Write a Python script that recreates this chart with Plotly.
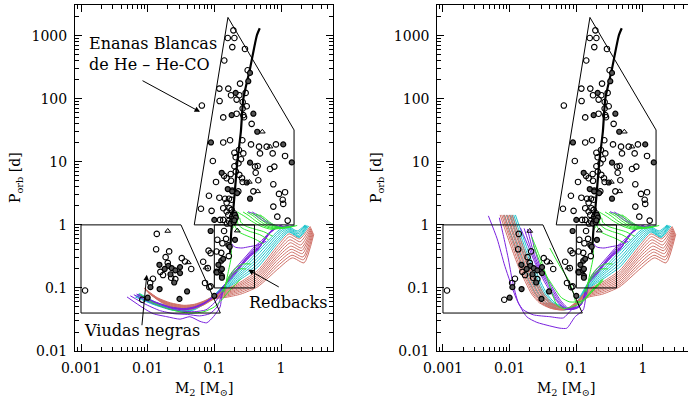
import numpy as np
import plotly.graph_objects as go

W, H = 688, 401
FONT = "DejaVu Serif"

SALMON = "#cf7168"
CYAN = "#1fc4cc"
PURPLE = "#7a22de"
GREEN = "#2ee82e"

# ---------------- observed binary pulsars (M2 [Msun], Porb [d]) ----------------
OPEN_PTS = [
    (0.065, 78), (0.193, 1217), (0.159, 920), (0.2, 920), (0.186, 660), (0.288, 617),
    (0.141, 404), (0.316, 283), (0.243, 174), (0.119, 145), (0.162, 145), (0.295, 124),
    (0.178, 114), (0.237, 114), (0.216, 97), (0.12, 92), (0.266, 89), (0.306, 76),
    (0.266, 70), (0.279, 51), (0.136, 50.6), (0.272, 55), (0.216, 58), (0.363, 40),
    (0.136, 20.3), (0.172, 22), (0.263, 22), (0.355, 18.9), (0.468, 17.4), (0.61, 17.4),
    (0.84, 18.9), (0.484, 13.6), (0.75, 13.6), (1.15, 12.4), (0.2, 13.9), (0.234, 15.4),
    (0.209, 11.8), (0.251, 11), (0.272, 13.6), (0.095, 10.3), (0.407, 8.4), (0.447, 8.6),
    (0.684, 7.7), (0.794, 8.4), (0.14, 6.0), (0.176, 6.4), (0.153, 5.5), (0.178, 5.0),
    (0.237, 6.2), (0.266, 4.8), (0.417, 6.7), (0.457, 5.1), (0.767, 4.4), (0.106, 4.8),
    (0.186, 3.5), (0.229, 3.4), (0.385, 3.4), (0.933, 3.1), (1.15, 3.3), (0.083, 2.9),
    (0.119, 2.7), (0.145, 2.6), (0.166, 2.6), (0.153, 2.25), (0.182, 2.5), (1.06, 2.5),
    (1.08, 2.15), (0.063, 1.8), (0.091, 1.67), (0.136, 1.84), (0.168, 1.84), (0.153, 1.63),
    (0.182, 1.73), (0.197, 1.53), (0.162, 1.44), (0.767, 1.95), (0.88, 1.35), (0.122, 1.2),
    (0.136, 1.2), (1.26, 1.17), (0.185, 1.35), (0.165, 1.15), (0.155, 1.05), (0.23, 9.5),
    (0.21, 7.0), (0.2, 8.5), (0.26, 5.5),
    (0.00115, 0.091), (0.0137, 0.72), (0.0134, 0.41), (0.021, 0.38), (0.0186, 0.308),
    (0.0325, 0.297), (0.0363, 0.263), (0.026, 0.138), (0.0725, 0.12), (0.088, 0.106),
    (0.0109, 0.12), (0.088, 0.356), (0.127, 0.36), (0.111, 0.58), (0.132, 0.51),
    (0.108, 0.378), (0.165, 0.32), (0.108, 0.18), (0.082, 0.39), (0.068, 0.26),
    (0.084, 0.103), (0.08, 0.206), (0.02, 0.25), (0.017, 0.16), (0.0155, 0.18),
    (0.0225, 0.145), (0.045, 0.2), (0.0083, 0.065), (0.012, 0.14), (0.14, 0.8), (0.15, 0.6),
]
FILLED_PTS = [
    (0.343, 257), (0.323, 190), (0.209, 124), (0.182, 55), (0.385, 58), (0.44, 30),
    (0.089, 20.3), (1.08, 18.9), (0.343, 9.7), (1.45, 9.8), (0.129, 6.7), (0.306, 4.7),
    (0.159, 3.7), (0.343, 2.6), (0.1, 1.2), (0.193, 1.28), (0.182, 1.13), (0.204, 1.44),
    (0.175, 1.05), (0.195, 1.1), (0.21, 1.3), (0.2, 1.18), (0.22, 3.2), (0.185, 3.4),
    (0.015, 0.233), (0.0204, 0.224), (0.023, 0.206), (0.0306, 0.214), (0.0306, 0.172),
    (0.025, 0.122), (0.039, 0.088), (0.03, 0.067), (0.1, 0.075), (0.088, 0.8),
    (0.127, 0.27), (0.109, 0.176), (0.125, 0.19), (0.162, 0.48), (0.17, 0.45),
    (0.204, 0.58), (0.136, 0.29), (0.115, 0.233), (0.13, 0.2), (0.13, 0.155),
    (0.13, 0.145), (0.018, 0.2), (0.026, 0.19), (0.022, 0.165), (0.01, 0.07),
    (0.011, 0.103), (0.0151, 0.096),
]
TRIANGLE_PTS = [
    (0.525, 30), (0.684, 17.4), (0.335, 4.8), (0.447, 3.4), (0.02, 0.8),
    (0.0407, 0.254), (0.221, 0.81), (0.075, 0.21),
]

# ---------------- regions and the He-WD period-mass relation ----------------
WD_REGION = [(0.05, 1), (0.16, 1950), (1.57, 32), (1.57, 1), (0.05, 1)]
BW_REGION = [(0.001, 1), (0.0316, 1), (0.123, 0.04), (0.001, 0.04), (0.001, 1)]
RB_REGION = [(0.1, 0.1), (0.4, 0.1), (0.4, 1), (0.1, 1), (0.1, 0.1)]
WD_RELATION = [(0.172, 0.36), (0.18, 0.8), (0.19, 1.5), (0.204, 3.6), (0.221, 10),
               (0.25, 30), (0.272, 100), (0.343, 300), (0.433, 1000), (0.48, 1310)]

# ---------------- evolutionary tracks: high-mass part (shared) ----------------
SALMON_HI = [
    [(2.75, 0.95), (1.9, 0.6), (1.32, 0.72), (0.9, 0.47), (0.45, 0.19), (0.25, 0.125), (0.15, 0.095)],
    [(2.8, 0.92), (1.94, 0.54), (1.34, 0.65), (0.9, 0.42), (0.45, 0.175), (0.25, 0.118), (0.15, 0.092)],
    [(2.84, 0.89), (1.98, 0.48), (1.36, 0.58), (0.9, 0.38), (0.45, 0.162), (0.25, 0.112), (0.15, 0.089)],
    [(2.88, 0.86), (2.02, 0.43), (1.38, 0.52), (0.9, 0.34), (0.45, 0.15), (0.25, 0.106), (0.15, 0.086)],
    [(2.92, 0.83), (2.06, 0.39), (1.4, 0.46), (0.9, 0.31), (0.45, 0.139), (0.25, 0.1), (0.15, 0.083)],
    [(2.96, 0.8), (2.1, 0.35), (1.42, 0.41), (0.9, 0.28), (0.45, 0.129), (0.25, 0.095), (0.15, 0.08)],
    [(3.0, 0.77), (2.14, 0.31), (1.44, 0.37), (0.9, 0.25), (0.45, 0.12), (0.25, 0.09), (0.15, 0.077)],
    [(3.05, 0.74), (2.18, 0.28), (1.46, 0.33), (0.9, 0.225), (0.45, 0.112), (0.25, 0.085), (0.15, 0.074)],
    [(3.1, 0.71), (2.22, 0.25), (1.48, 0.3), (0.9, 0.2), (0.45, 0.105), (0.25, 0.08), (0.15, 0.071)],
]
CYAN_HI = [
    [(2.3, 1.0), (1.75, 0.8), (1.22, 0.97), (0.9, 0.8), (0.45, 0.38), (0.25, 0.2), (0.15, 0.12)],
    [(2.35, 0.99), (1.78, 0.76), (1.24, 0.92), (0.9, 0.74), (0.45, 0.34), (0.25, 0.185), (0.15, 0.114)],
    [(2.4, 0.98), (1.8, 0.72), (1.26, 0.88), (0.9, 0.68), (0.45, 0.3), (0.25, 0.172), (0.15, 0.109)],
    [(2.45, 0.97), (1.83, 0.68), (1.28, 0.84), (0.9, 0.62), (0.45, 0.27), (0.25, 0.16), (0.15, 0.104)],
    [(2.5, 0.97), (1.86, 0.65), (1.3, 0.8), (0.9, 0.57), (0.45, 0.24), (0.25, 0.148), (0.15, 0.1)],
    [(2.6, 0.96), (1.88, 0.63), (1.31, 0.77), (0.9, 0.52), (0.45, 0.215), (0.25, 0.138), (0.15, 0.097)],
]
PURPLE_HI = [
    [(1.05, 1.0), (0.75, 0.85), (0.5, 0.55), (0.4, 0.45), (0.3, 0.32), (0.22, 0.22), (0.16, 0.14)],
    [(1.0, 0.98), (0.72, 0.8), (0.5, 0.51), (0.4, 0.42), (0.3, 0.3), (0.22, 0.2), (0.16, 0.135)],
    [(0.95, 0.96), (0.7, 0.76), (0.5, 0.48), (0.39, 0.39), (0.29, 0.28), (0.21, 0.19), (0.155, 0.13)],
    [(0.9, 0.94), (0.66, 0.72), (0.48, 0.45), (0.37, 0.36), (0.28, 0.26), (0.21, 0.18), (0.155, 0.125)],
    [(0.85, 0.92), (0.63, 0.68), (0.46, 0.42), (0.36, 0.34), (0.27, 0.24), (0.2, 0.17), (0.15, 0.12)],
    [(0.8, 0.9), (0.6, 0.65), (0.45, 0.4), (0.35, 0.32), (0.26, 0.23), (0.2, 0.16), (0.15, 0.115)],
]
PURPLE_UPPER = [
    [(1.3, 0.97), (0.9, 0.93), (0.65, 1.05), (0.48, 1.25), (0.38, 1.5), (0.32, 1.62)],
    [(1.6, 0.98), (1.1, 0.93), (0.78, 1.0), (0.58, 1.18), (0.45, 1.42), (0.37, 1.6)],
    [(0.6, 0.55), (0.45, 0.48), (0.33, 0.45), (0.26, 0.43), (0.21, 0.44), (0.19, 0.47), (0.185, 0.5)],
]
GREEN_UPPER = [
    [(1.0, 0.93), (0.72, 0.85), (0.5, 0.95), (0.36, 1.15), (0.28, 1.38), (0.22, 1.6)],
    [(1.15, 0.94), (0.82, 0.86), (0.57, 0.95), (0.42, 1.15), (0.33, 1.4), (0.27, 1.6)],
    [(1.3, 0.95), (0.92, 0.87), (0.64, 0.95), (0.48, 1.15), (0.38, 1.4), (0.31, 1.58)],
    [(1.45, 0.96), (1.02, 0.88), (0.72, 0.95), (0.54, 1.14), (0.44, 1.38), (0.36, 1.55)],
    [(1.6, 0.97), (1.12, 0.89), (0.8, 0.95), (0.6, 1.13), (0.5, 1.36), (0.42, 1.5)],
    [(1.75, 0.98), (1.22, 0.9), (0.88, 0.94), (0.68, 1.1), (0.56, 1.3), (0.48, 1.45)],
    [(0.55, 0.5), (0.4, 0.6), (0.3, 0.68), (0.24, 0.76), (0.21, 0.9), (0.2, 1.1), (0.21, 1.35)],
    [(0.65, 0.58), (0.48, 0.7), (0.35, 0.78), (0.27, 0.87), (0.23, 1.0), (0.22, 1.2), (0.23, 1.45)],
    [(0.75, 0.66), (0.55, 0.78), (0.4, 0.86), (0.3, 0.95), (0.25, 1.1), (0.24, 1.3)],
    [(0.14, 0.085), (0.16, 0.17), (0.18, 0.32), (0.176, 0.58), (0.182, 0.83), (0.21, 1.06), (0.23, 1.44)],
    [(0.3, 0.2), (0.24, 0.2), (0.19, 0.17), (0.16, 0.13), (0.14, 0.1), (0.13, 0.085)],
    [(0.35, 0.24), (0.27, 0.24), (0.21, 0.21), (0.17, 0.16), (0.15, 0.12), (0.135, 0.09)],
]

# ---------------- low-mass branch, left panel ----------------
SALMON_LO_L = [
    [(0.1, 0.075), (0.07, 0.062), (0.05, 0.055), (0.035, 0.053), (0.022, 0.058), (0.014, 0.07), (0.0088, 0.1)],
    [(0.1, 0.074), (0.07, 0.061), (0.05, 0.054), (0.035, 0.052), (0.022, 0.057), (0.014, 0.068), (0.009, 0.097)],
    [(0.1, 0.073), (0.07, 0.06), (0.05, 0.053), (0.035, 0.051), (0.022, 0.056), (0.0145, 0.067), (0.0092, 0.094)],
    [(0.1, 0.072), (0.07, 0.059), (0.05, 0.052), (0.035, 0.05), (0.022, 0.055), (0.015, 0.066), (0.0094, 0.092)],
    [(0.1, 0.071), (0.07, 0.058), (0.05, 0.051), (0.035, 0.049), (0.022, 0.054), (0.015, 0.064), (0.0096, 0.09)],
    [(0.1, 0.07), (0.07, 0.057), (0.05, 0.05), (0.035, 0.048), (0.022, 0.053), (0.015, 0.063), (0.0098, 0.088)],
    [(0.1, 0.069), (0.07, 0.056), (0.05, 0.049), (0.035, 0.047), (0.022, 0.052), (0.0155, 0.062), (0.01, 0.086)],
    [(0.1, 0.068), (0.07, 0.055), (0.05, 0.048), (0.035, 0.046), (0.022, 0.051), (0.016, 0.06), (0.0102, 0.084)],
    [(0.1, 0.067), (0.07, 0.054), (0.05, 0.047), (0.035, 0.045), (0.022, 0.05), (0.016, 0.059), (0.0104, 0.082)],
]
CYAN_LO_L = [
    [(0.1, 0.078), (0.07, 0.06), (0.05, 0.05), (0.035, 0.047), (0.022, 0.05), (0.013, 0.06), (0.0075, 0.082)],
    [(0.1, 0.077), (0.07, 0.059), (0.05, 0.049), (0.035, 0.046), (0.022, 0.049), (0.013, 0.058), (0.0073, 0.08)],
    [(0.1, 0.076), (0.07, 0.058), (0.05, 0.048), (0.035, 0.045), (0.022, 0.048), (0.013, 0.057), (0.0071, 0.078)],
    [(0.1, 0.075), (0.07, 0.057), (0.05, 0.047), (0.035, 0.044), (0.022, 0.047), (0.012, 0.057), (0.0069, 0.076)],
    [(0.1, 0.074), (0.07, 0.056), (0.05, 0.046), (0.035, 0.043), (0.022, 0.046), (0.012, 0.056), (0.0067, 0.074)],
    [(0.1, 0.073), (0.07, 0.055), (0.05, 0.045), (0.035, 0.042), (0.022, 0.045), (0.012, 0.055), (0.0065, 0.072)],
]
PURPLE_LO_L = [
    [(0.13, 0.075), (0.122, 0.05), (0.097, 0.035), (0.077, 0.028), (0.061, 0.0295), (0.043, 0.035),
     (0.0306, 0.032), (0.0194, 0.035), (0.0122, 0.039), (0.0086, 0.048), (0.0049, 0.072)],
    [(0.13, 0.08), (0.11, 0.05), (0.085, 0.039), (0.06, 0.036), (0.04, 0.038), (0.025, 0.039),
     (0.015, 0.044), (0.009, 0.056), (0.0055, 0.075)],
    [(0.13, 0.085), (0.1, 0.058), (0.075, 0.045), (0.05, 0.042), (0.032, 0.043), (0.02, 0.047),
     (0.012, 0.057), (0.0062, 0.078)],
    [(0.12, 0.09), (0.1, 0.075), (0.07, 0.058), (0.05, 0.05), (0.035, 0.047), (0.022, 0.05), (0.013, 0.06), (0.0068, 0.08)],
    [(0.12, 0.088), (0.1, 0.074), (0.07, 0.057), (0.05, 0.049), (0.035, 0.046), (0.022, 0.049), (0.013, 0.059), (0.007, 0.079)],
    [(0.12, 0.086), (0.1, 0.073), (0.07, 0.056), (0.05, 0.048), (0.035, 0.045), (0.022, 0.048), (0.013, 0.058), (0.0072, 0.077)],
]
GREEN_LO_L = [
    [(0.25, 0.14), (0.16, 0.085), (0.13, 0.065), (0.1, 0.05), (0.07, 0.042), (0.045, 0.04),
     (0.03, 0.042), (0.02, 0.047), (0.012, 0.058), (0.0075, 0.08)],
]

# ---------------- low-mass branch, right panel ----------------
SALMON_LO_R = [
    [(0.1, 0.06), (0.075, 0.048), (0.055, 0.045), (0.04, 0.048), (0.028, 0.058), (0.0214, 0.08), (0.0175, 0.12), (0.0135, 0.22), (0.0105, 0.45), (0.0085, 0.85), (0.0072, 1.44)],
    [(0.1, 0.06), (0.077, 0.048), (0.057, 0.045), (0.042, 0.048), (0.0295, 0.058), (0.0226, 0.08), (0.0185, 0.12), (0.0142, 0.22), (0.0111, 0.45), (0.009, 0.85), (0.0076, 1.44)],
    [(0.1, 0.059), (0.079, 0.047), (0.059, 0.045), (0.044, 0.048), (0.031, 0.058), (0.0238, 0.08), (0.0194, 0.12), (0.015, 0.22), (0.0117, 0.45), (0.0094, 0.85), (0.008, 1.44)],
    [(0.1, 0.058), (0.081, 0.047), (0.061, 0.045), (0.047, 0.048), (0.0328, 0.058), (0.025, 0.08), (0.0205, 0.12), (0.0158, 0.22), (0.0123, 0.45), (0.0099, 0.85), (0.0084, 1.44)],
    [(0.1, 0.057), (0.083, 0.047), (0.063, 0.045), (0.049, 0.048), (0.0344, 0.058), (0.0263, 0.08), (0.0215, 0.12), (0.0166, 0.22), (0.0129, 0.45), (0.0105, 0.85), (0.0089, 1.44)],
    [(0.1, 0.056), (0.085, 0.047), (0.066, 0.046), (0.052, 0.049), (0.0364, 0.058), (0.0278, 0.08), (0.0228, 0.12), (0.0176, 0.22), (0.0137, 0.45), (0.011, 0.85), (0.0094, 1.44)],
    [(0.1, 0.055), (0.087, 0.047), (0.069, 0.046), (0.055, 0.049), (0.0384, 0.058), (0.0293, 0.08), (0.024, 0.12), (0.0185, 0.22), (0.0144, 0.45), (0.0116, 0.85), (0.0099, 1.44)],
    [(0.1, 0.054), (0.089, 0.047), (0.072, 0.046), (0.058, 0.049), (0.0403, 0.058), (0.0308, 0.08), (0.0252, 0.12), (0.0194, 0.22), (0.0151, 0.45), (0.0122, 0.85), (0.0104, 1.44)],
    [(0.1, 0.053), (0.091, 0.047), (0.075, 0.046), (0.061, 0.049), (0.0426, 0.058), (0.0325, 0.08), (0.0266, 0.12), (0.0205, 0.22), (0.016, 0.45), (0.0129, 0.85), (0.011, 1.44)],
]
CYAN_LO_R = [
    [(0.1, 0.058), (0.08, 0.047), (0.063, 0.045), (0.046, 0.048), (0.0322, 0.058), (0.0246, 0.08), (0.0201, 0.12), (0.0155, 0.22), (0.0121, 0.45), (0.0098, 0.85), (0.0083, 1.44)],
    [(0.1, 0.057), (0.083, 0.047), (0.066, 0.045), (0.051, 0.048), (0.0356, 0.058), (0.0272, 0.08), (0.0222, 0.12), (0.0171, 0.22), (0.0133, 0.45), (0.0108, 0.85), (0.0091, 1.44)],
    [(0.1, 0.056), (0.086, 0.047), (0.07, 0.046), (0.056, 0.049), (0.0392, 0.058), (0.03, 0.08), (0.0245, 0.12), (0.0189, 0.22), (0.0147, 0.45), (0.0119, 0.85), (0.0101, 1.44)],
    [(0.1, 0.055), (0.09, 0.047), (0.074, 0.046), (0.06, 0.049), (0.042, 0.058), (0.0321, 0.08), (0.0263, 0.12), (0.0203, 0.22), (0.0158, 0.45), (0.0128, 0.85), (0.0108, 1.44)],
    [(0.1, 0.054), (0.092, 0.047), (0.077, 0.046), (0.064, 0.049), (0.0448, 0.058), (0.0342, 0.08), (0.028, 0.12), (0.0216, 0.22), (0.0168, 0.45), (0.0136, 0.85), (0.0115, 1.44)],
    [(0.1, 0.053), (0.094, 0.047), (0.08, 0.046), (0.068, 0.049), (0.0476, 0.058), (0.0364, 0.08), (0.0298, 0.12), (0.023, 0.22), (0.0179, 0.45), (0.0145, 0.85), (0.0122, 1.44)],
]
PURPLE_LO_R = [
    [(0.14, 0.075), (0.127, 0.045), (0.096, 0.035), (0.072, 0.023), (0.057, 0.023), (0.04, 0.025),
     (0.0255, 0.0285), (0.018, 0.035), (0.0128, 0.065), (0.0085, 0.22), (0.0065, 0.6), (0.0048, 1.39)],
    [(0.14, 0.08), (0.11, 0.05), (0.085, 0.045), (0.064, 0.0335), (0.04, 0.035), (0.0226, 0.0375),
     (0.016, 0.045), (0.0135, 0.058), (0.011, 0.13), (0.0095, 0.3), (0.008, 0.7), (0.007, 1.3)],
    [(0.12, 0.058), (0.1, 0.05), (0.075, 0.048), (0.057, 0.065), (0.04, 0.12), (0.0286, 0.22), (0.024, 0.4), (0.0202, 0.83)],
    [(0.12, 0.057), (0.1, 0.049), (0.072, 0.047), (0.054, 0.065), (0.038, 0.12), (0.027, 0.23), (0.022, 0.42), (0.0185, 0.86)],
    [(0.12, 0.056), (0.1, 0.048), (0.07, 0.046), (0.051, 0.065), (0.036, 0.12), (0.0255, 0.24), (0.0205, 0.44), (0.0165, 0.88)],
    [(0.12, 0.055), (0.1, 0.047), (0.068, 0.046), (0.049, 0.065), (0.034, 0.12), (0.024, 0.25), (0.019, 0.46), (0.0145, 0.9)],
]
GREEN_LO_R = [
    [(0.25, 0.13), (0.16, 0.08), (0.12, 0.058), (0.085, 0.05), (0.065, 0.047), (0.052, 0.052),
     (0.045, 0.073), (0.036, 0.15), (0.028, 0.32), (0.0214, 0.65)],
    [(0.25, 0.14), (0.16, 0.085), (0.13, 0.065), (0.1, 0.058), (0.09, 0.085), (0.076, 0.135),
     (0.057, 0.22), (0.04, 0.43)],
    [(0.25, 0.135), (0.16, 0.082), (0.12, 0.062), (0.08, 0.06), (0.06, 0.07), (0.045, 0.106),
     (0.032, 0.19), (0.0227, 0.48)],
]

# ---------------- labels ----------------
XTICKS = [0.001, 0.01, 0.1, 1]
XTICK_TEXT = ["0.001", "0.01", "0.1", "1"]
YTICKS = [0.01, 0.1, 1, 10, 100, 1000]
YTICK_TEXT = ["0.01", "0.1", "1", "10", "100", "1000"]
X_TITLE = "M<sub>2</sub> [M<sub>⊙</sub>]"
Y_TITLE = "P<sub>orb</sub> [d]"

fig = go.Figure()


def add_line(points, color, xa, ya, width=1.0, smooth=True):
    fig.add_trace(go.Scatter(
        x=[p[0] for p in points], y=[p[1] for p in points], mode="lines",
        line=dict(color=color, width=width, shape="spline" if smooth else "linear",
                  smoothing=0.6),
        xaxis=xa, yaxis=ya, hoverinfo="skip", showlegend=False))


def add_points(points, symbol, size, fill, lw, xa, ya):
    fig.add_trace(go.Scatter(
        x=[p[0] for p in points], y=[p[1] for p in points], mode="markers",
        marker=dict(symbol=symbol, size=size, color=fill,
                    line=dict(color="black", width=lw)),
        xaxis=xa, yaxis=ya, hoverinfo="skip", showlegend=False))


panels = [("x", "y", SALMON_LO_L, CYAN_LO_L, PURPLE_LO_L, GREEN_LO_L),
          ("x2", "y2", SALMON_LO_R, CYAN_LO_R, PURPLE_LO_R, GREEN_LO_R)]

for xa, ya, s_lo, c_lo, p_lo, g_lo in panels:
    for hi, lo in zip(CYAN_HI, c_lo):
        add_line(hi + lo, CYAN, xa, ya)
    for hi, lo in zip(SALMON_HI, s_lo):
        add_line(hi + lo, SALMON, xa, ya)
    for hi, lo in zip(PURPLE_HI, p_lo):
        add_line(hi + lo, PURPLE, xa, ya)
    for tr in PURPLE_UPPER:
        add_line(tr, PURPLE, xa, ya)
    for tr in GREEN_UPPER:
        add_line(tr, GREEN, xa, ya)
    for tr in g_lo:
        add_line(tr, GREEN, xa, ya)
    for reg in (WD_REGION, BW_REGION, RB_REGION):
        add_line(reg, "black", xa, ya, width=1.0, smooth=False)
    add_line(WD_RELATION, "black", xa, ya, width=2.2)
    add_points(OPEN_PTS, "circle-open", 5.5, "black", 1.1, xa, ya)
    add_points(FILLED_PTS, "circle", 5, "#555555", 1.2, xa, ya)
    add_points(TRIANGLE_PTS, "triangle-up-open", 5, "black", 1.0, xa, ya)

minor_vals = [m * 10.0 ** e for e in range(-4, 4) for m in range(2, 10)]
tickfont = dict(family=FONT, size=14, color="black")


def axis_style(tickvals, ticktext, mirror):
    return dict(
        type="log", showgrid=False, zeroline=False, showline=True, linecolor="black",
        linewidth=1, mirror=mirror, ticks="inside", ticklen=7, tickwidth=1,
        tickcolor="black", tickmode="array", tickvals=tickvals, ticktext=ticktext,
        tickfont=tickfont, ticklabelstandoff=4, automargin=False,
        minor=dict(ticks="inside", ticklen=4, tickwidth=1, tickcolor="black",
                   tickmode="array", tickvals=minor_vals, showgrid=False),
    )


ydom = [50 / H, 396 / H]
fig.update_layout(
    width=W, height=H, margin=dict(l=0, r=0, t=0, b=0, autoexpand=False),
    paper_bgcolor="white", plot_bgcolor="white", showlegend=False,
    xaxis=dict(**axis_style(XTICKS, XTICK_TEXT, "ticks"), domain=[75 / W, 333 / W],
               range=[-3.09, 0.78], anchor="y"),
    yaxis=dict(**axis_style(YTICKS, YTICK_TEXT, "ticks"), domain=ydom,
               range=[-2, 3.487], anchor="x"),
    xaxis2=dict(**axis_style(XTICKS, XTICK_TEXT, "ticks"), domain=[437.3 / W, 1.0],
                range=[-3.085, 0.675], anchor="y2"),
    yaxis2=dict(**axis_style(YTICKS, YTICK_TEXT, False), domain=ydom,
                range=[-2, 3.487], anchor="x2"),
)

textfont = dict(family=FONT, size=14, color="black")
labelfont = dict(family=FONT, size=16, color="black")
annotations = []
# axis titles
for cx in (204, 566):
    annotations.append(dict(xref="paper", yref="paper", x=cx / W, y=(H - 389) / H,
                            text=X_TITLE, showarrow=False, font=textfont,
                            xanchor="center", yanchor="middle"))
for cx in (16, 377):
    annotations.append(dict(xref="paper", yref="paper", x=cx / W, y=(H - 178) / H,
                            text=Y_TITLE, showarrow=False, font=textfont, textangle=-90,
                            xanchor="center", yanchor="middle"))

# labels with arrows (left panel); positions given as (M2, Porb)
LABELS = [
    ("Enanas Blancas<br>de He – He-CO", (0.00128, 513)),
    ("Redbacks", (0.32, 0.0594)),
    ("Viudas negras", (0.00107, 0.021)),
]
for text, (m, p) in LABELS:
    annotations.append(dict(xref="x", yref="y", x=np.log10(m), y=np.log10(p), text=text,
                            showarrow=False, font=labelfont, xanchor="left",
                            yanchor="middle", align="left", borderpad=0))

ARROW_HEADS = [((0.061, 62), (-59, -32)), ((0.323, 0.194), (32, 18)),
               ((0.0097, 0.162), (-5, 52))]
for (m, p), (ax, ay) in ARROW_HEADS:
    annotations.append(dict(xref="x", yref="y", x=np.log10(m), y=np.log10(p), ax=ax, ay=ay,
                            text="", showarrow=True, arrowhead=2, arrowsize=1.1,
                            arrowwidth=1, arrowcolor="black", standoff=0))
fig.update_layout(annotations=annotations)

fig.write_html("out.html")
